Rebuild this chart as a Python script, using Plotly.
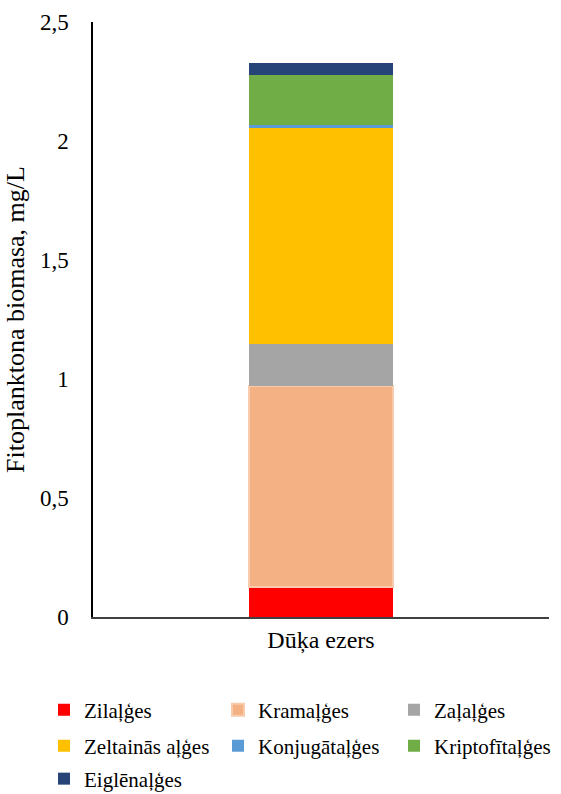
import plotly.graph_objects as go

categories = ["Dūķa ezers"]
series_names = ["Zilaļģes", "Kramaļģes", "Zaļaļģes", "Zeltainās aļģes",
                "Konjugātaļģes", "Kriptofītaļģes", "Eiglēnaļģes"]
series_values = [[0.125], [0.845], [0.178], [0.907], [0.013], [0.21], [0.051]]
series_colors = ["#FF0000", "#F4B183", "#A5A5A5", "#FFC000",
                 "#5B9BD5", "#70AD47", "#264478"]
y_tickvals = [0, 0.5, 1, 1.5, 2, 2.5]

font_family = "'Times New Roman', 'Liberation Serif', serif"
W, H = 561, 794

# legend slot positions (pixels): marker left edge, row centre
legend_slots = [(61, 710), (235, 710), (411, 710),
                (61, 746), (235, 746), (411, 746),
                (61, 779)]

fig = go.Figure()
legend_layouts = {}
for i, (name, vals, col) in enumerate(zip(series_names, series_values, series_colors)):
    line = dict(width=0)
    if name == "Kramaļģes":
        line = dict(width=2, color="#F8CBAD")
    key = "legend" if i == 0 else f"legend{i + 1}"
    fig.add_trace(go.Bar(x=categories, y=vals, name=name, legend=key,
                         marker=dict(color=col, line=line)))
    mx, my = legend_slots[i]
    legend_layouts[key] = dict(
        xref="container", yref="container",
        x=(mx - 17) / W, xanchor="left",
        y=1 - my / H, yanchor="middle",
        orientation="h", bgcolor="rgba(0,0,0,0)",
        font=dict(family=font_family, size=21, color="black"),
    )

fig.update_layout(
    barmode="stack",
    bargap=0.686,
    width=W, height=H,
    margin=dict(l=93, r=12, t=22, b=177, autoexpand=False),
    paper_bgcolor="white", plot_bgcolor="white",
    separators=", ",
    font=dict(family=font_family, size=23, color="black"),
    showlegend=True,
    xaxis=dict(showline=True, linecolor="#404040", linewidth=1.5,
               tickfont=dict(family=font_family, size=24), ticks="", showgrid=False),
    yaxis=dict(range=[0, 2.5], tickvals=y_tickvals, showline=True,
               linecolor="black", linewidth=1.5, showgrid=False, ticks="",
               ticklabelstandoff=18, zeroline=False,
               tickfont=dict(family=font_family, size=23),
               title=dict(text="Fitoplanktona biomasa, mg/L",
                          font=dict(family=font_family, size=26),
                          standoff=8)),
    **legend_layouts,
)

fig.write_html("out.html")
